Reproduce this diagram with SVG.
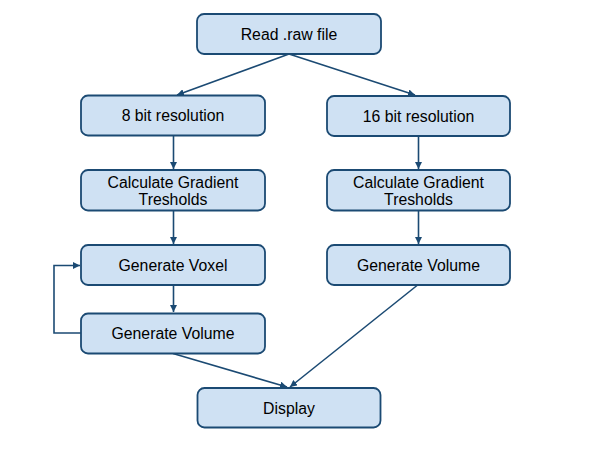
<svg xmlns="http://www.w3.org/2000/svg" width="612" height="459" viewBox="0 0 612 459">
<style>
.box{fill:#cfe1f3;stroke:#1b4a73;stroke-width:1.8}
.lbl{font-family:"Liberation Sans",Arial,sans-serif;font-size:15.8px;fill:#000;text-anchor:middle}
.con{fill:none;stroke:#1b4a73;stroke-width:1.6}
</style>
<defs>
<marker id="arr" viewBox="0 0 10 10" refX="10" refY="5" markerWidth="7" markerHeight="7" orient="auto" markerUnits="userSpaceOnUse">
<path d="M0,0 L10,5 L0,10 z" fill="#1b4a73"/>
</marker>
</defs>
<rect width="612" height="459" fill="#fff"/>
<g id="connectors">
<line class="con" x1="289" y1="54" x2="177" y2="95" marker-end="url(#arr)"/>
<line class="con" x1="289" y1="54" x2="415" y2="95" marker-end="url(#arr)"/>
<line class="con" x1="173.5" y1="136" x2="173.5" y2="169" marker-end="url(#arr)"/>
<line class="con" x1="418.5" y1="136" x2="418.5" y2="169" marker-end="url(#arr)"/>
<line class="con" x1="173.5" y1="211" x2="173.5" y2="244" marker-end="url(#arr)"/>
<line class="con" x1="418.5" y1="211" x2="418.5" y2="244" marker-end="url(#arr)"/>
<line class="con" x1="173.5" y1="286" x2="173.5" y2="312" marker-end="url(#arr)"/>
<polyline class="con" points="81,333 54,333 54,265.5 80,265.5" marker-end="url(#arr)"/>
<line class="con" x1="173" y1="353.5" x2="287" y2="387" marker-end="url(#arr)"/>
<line class="con" x1="417" y1="285.5" x2="290" y2="387" marker-end="url(#arr)"/>
</g>
<g id="read"><rect class="box" x="197" y="14" width="184" height="40" rx="7"/><text class="lbl" x="289" y="40">Read .raw file</text></g>
<g id="bit8"><rect class="box" x="81" y="95.5" width="184" height="40" rx="7"/><text class="lbl" x="173" y="121">8 bit resolution</text></g>
<g id="bit16"><rect class="box" x="327" y="96" width="183" height="40" rx="7"/><text class="lbl" x="418.5" y="121.5">16 bit resolution</text></g>
<g id="calc8"><rect class="box" x="81" y="170" width="184" height="40.5" rx="7"/><text class="lbl" x="173" y="188">Calculate Gradient</text><text class="lbl" x="173" y="204.5">Tresholds</text></g>
<g id="calc16"><rect class="box" x="327" y="170" width="183" height="40.5" rx="7"/><text class="lbl" x="418.5" y="188">Calculate Gradient</text><text class="lbl" x="418.5" y="204.5">Tresholds</text></g>
<g id="voxel"><rect class="box" x="81" y="245" width="184" height="40" rx="7"/><text class="lbl" x="173" y="270.5">Generate Voxel</text></g>
<g id="volume8"><rect class="box" x="81" y="313.5" width="184" height="40" rx="7"/><text class="lbl" x="173" y="339">Generate Volume</text></g>
<g id="volume16"><rect class="box" x="327" y="245" width="183" height="40" rx="7"/><text class="lbl" x="418.5" y="270.5">Generate Volume</text></g>
<g id="display"><rect class="box" x="197.5" y="388" width="183" height="39.5" rx="7"/><text class="lbl" x="289" y="413.5">Display</text></g>
</svg>
